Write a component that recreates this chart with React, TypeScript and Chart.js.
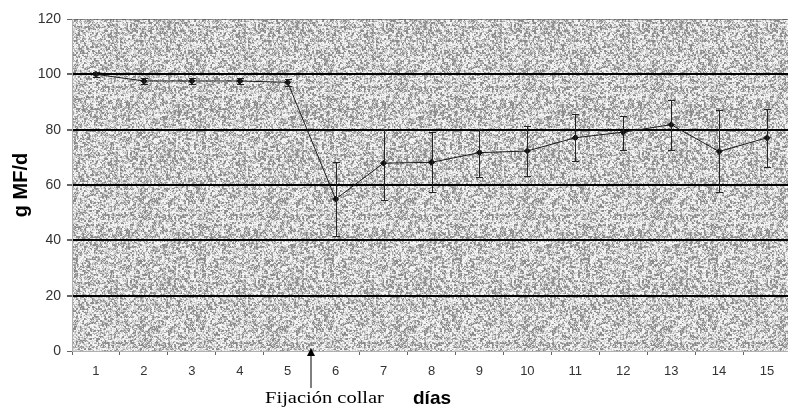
import React, { useEffect, useRef } from "react";
import { Chart, registerables } from "chart.js";

Chart.register(...registerables);

const days = ["1", "2", "3", "4", "5", "6", "7", "8", "9", "10", "11", "12", "13", "14", "15"];
const intake = [100, 97.6, 97.6, 97.6, 97.1, 54.9, 67.9, 68.2, 71.7, 72.3, 77.1, 79.1, 81.8, 72.1, 77.1];
const errUpper = [100.8, 98.7, 98.7, 98.7, 98.4, 68.2, 80.3, 79.0, 80.3, 81.4, 85.6, 85.0, 90.8, 87.2, 87.5];
const errLower = [99.2, 96.5, 96.5, 96.5, 95.8, 41.7, 54.6, 57.3, 62.8, 63.3, 68.7, 72.7, 72.7, 57.3, 66.4];
const yMin = 0;
const yMax = 120;
const yStep = 20;
const yTitle = "g MF/d";
const xTitle = "días";
const eventLabel = "Fijación collar";
const eventAfterIndex = 4; // arrow between day 5 and day 6

function hash(n: number): number {
  let x = (n * 2654435761) >>> 0;
  x ^= x >>> 15;
  x = Math.imul(x, 2246822519) >>> 0;
  x ^= x >>> 13;
  x = Math.imul(x, 3266489917) >>> 0;
  x ^= x >>> 16;
  return (x >>> 0) / 4294967296;
}

function makeTile(): HTMLCanvasElement {
  const size = 128;
  const c = document.createElement("canvas");
  c.width = size;
  c.height = size;
  const ctx = c.getContext("2d")!;
  const img = ctx.createImageData(size, size);
  for (let y = 0; y < size; y++) {
    for (let x = 0; x < size; x++) {
      const b = hash(((y >> 1) * 977 + (x >> 1)) * 7 + 3);
      const p = hash(y * 131 + x + 99991);
      const v = 0.55 * b + 0.45 * p;
      let g: number;
      if (v < 0.3) g = 138;
      else if (v < 0.44) g = 170;
      else if (v < 0.62) g = 212;
      else g = 244;
      const i = (y * size + x) * 4;
      img.data[i] = g;
      img.data[i + 1] = g;
      img.data[i + 2] = g;
      img.data[i + 3] = 255;
    }
  }
  ctx.putImageData(img, 0, 0);
  return c;
}

const backgroundPlugin = {
  id: "stipple",
  beforeDraw(chart: any) {
    const { ctx, chartArea } = chart;
    if (!chart.$tile) chart.$tile = makeTile();
    const pattern = ctx.createPattern(chart.$tile, "repeat");
    ctx.save();
    ctx.fillStyle = pattern;
    ctx.fillRect(chartArea.left, chartArea.top, chartArea.right - chartArea.left, chartArea.bottom - chartArea.top);
    ctx.restore();
  },
};

const errorBarPlugin = {
  id: "errorBars",
  afterDatasetsDraw(chart: any) {
    const { ctx } = chart;
    const xs = chart.scales.x;
    const ys = chart.scales.y;
    ctx.save();
    ctx.strokeStyle = "#222";
    ctx.lineWidth = 1;
    for (let i = 0; i < intake.length; i++) {
      const x = Math.round(xs.getPixelForValue(i)) + 0.5;
      const yt = Math.round(ys.getPixelForValue(errUpper[i])) + 0.5;
      const yb = Math.round(ys.getPixelForValue(errLower[i])) + 0.5;
      ctx.beginPath();
      ctx.moveTo(x, yt);
      ctx.lineTo(x, yb);
      ctx.moveTo(x - 3.5, yt);
      ctx.lineTo(x + 3.5, yt);
      ctx.moveTo(x - 3.5, yb);
      ctx.lineTo(x + 3.5, yb);
      ctx.stroke();
    }
    ctx.restore();
  },
};

const textPlugin = {
  id: "annotations",
  afterDraw(chart: any) {
    const { ctx, chartArea } = chart;
    const xs = chart.scales.x;
    ctx.save();
    ctx.fillStyle = "#000";
    ctx.font = "bold 20px 'Liberation Sans', Arial, sans-serif";
    ctx.textAlign = "center";
    ctx.textBaseline = "middle";
    ctx.translate(21, (chartArea.top + chartArea.bottom) / 2);
    ctx.rotate(-Math.PI / 2);
    ctx.fillText(yTitle, 0, 0);
    ctx.restore();

    const ax = Math.round((xs.getPixelForValue(eventAfterIndex) + xs.getPixelForValue(eventAfterIndex + 1)) / 2) - 1.5;
    const tip = chartArea.bottom - 3;
    ctx.save();
    ctx.strokeStyle = "#000";
    ctx.fillStyle = "#000";
    ctx.lineWidth = 1;
    ctx.beginPath();
    ctx.moveTo(ax + 0.5, tip + 6);
    ctx.lineTo(ax + 0.5, tip + 40);
    ctx.stroke();
    ctx.beginPath();
    ctx.moveTo(ax + 0.5, tip);
    ctx.lineTo(ax + 4.5, tip + 8);
    ctx.lineTo(ax - 3.5, tip + 8);
    ctx.closePath();
    ctx.fill();

    ctx.font = "16px 'Liberation Serif', 'Times New Roman', serif";
    ctx.textAlign = "center";
    ctx.textBaseline = "alphabetic";
    ctx.translate(ax + 14, 403);
    ctx.scale(1.28, 1);
    ctx.fillText(eventLabel, 0, 0);
    ctx.restore();

    ctx.save();
    ctx.fillStyle = "#000";
    ctx.font = "bold 19px 'Liberation Sans', Arial, sans-serif";
    ctx.textAlign = "center";
    ctx.textBaseline = "alphabetic";
    ctx.fillText(xTitle, 432, 404);
    ctx.restore();
  },
};

export default function App() {
  const ref = useRef<HTMLCanvasElement | null>(null);
  useEffect(() => {
    if (!ref.current) return;
    const chart = new Chart(ref.current, {
      type: "line",
      data: {
        labels: days,
        datasets: [
          {
            data: intake,
            borderColor: "#1a1a1a",
            borderWidth: 1,
            pointStyle: "rectRot",
            pointRadius: 3,
            pointBackgroundColor: "#111",
            pointBorderColor: "#111",
            pointBorderWidth: 1,
            tension: 0,
            fill: false,
          },
        ],
      },
      options: {
        animation: false,
        responsive: false,
        devicePixelRatio: 1,
        layout: { padding: { top: 19, right: 4, left: 0, bottom: 0 } },
        plugins: { legend: { display: false }, tooltip: { enabled: false } },
        scales: {
          x: {
            type: "category",
            offset: true,
            grid: {
              offset: true,
              drawOnChartArea: false,
              drawTicks: true,
              tickLength: 4,
              tickColor: "#666",
            },
            border: { display: true, color: "#b0b0b0" },
            ticks: {
              color: "#333",
              padding: 9,
              font: { family: "'Liberation Sans', Arial, sans-serif", size: 13 },
              maxRotation: 0,
              autoSkip: false,
            },
            afterFit(scale: any) {
              scale.height = 56;
            },
          },
          y: {
            min: yMin,
            max: yMax,
            ticks: {
              stepSize: yStep,
              color: "#333",
              padding: 6,
              font: { family: "'Liberation Sans', Arial, sans-serif", size: 14 },
            },
            grid: {
              color: (c: any) => {
                const v = c.tick ? c.tick.value : 0;
                if (v === yMin) return "rgba(0,0,0,0)";
                if (v === yMax) return "rgba(60,60,60,0.5)";
                return "#000";
              },
              lineWidth: (c: any) => {
                const v = c.tick ? c.tick.value : 0;
                return v === yMin || v === yMax ? 1 : 2;
              },
              tickColor: "#666",
              tickLength: 5,
            },
            border: { display: true, color: "#b0b0b0" },
            afterFit(scale: any) {
              scale.width = 72;
            },
          },
        },
      },
      plugins: [backgroundPlugin, errorBarPlugin, textPlugin],
    });
    return () => chart.destroy();
  }, []);
  return (
    <div style={{ position: "fixed", left: 0, top: 0, width: 788, height: 407, overflow: "hidden", background: "#fff" }}>
      <canvas ref={ref} width={796} height={407} style={{ display: "block", width: 796, height: 407 }} />
    </div>
  );
}
